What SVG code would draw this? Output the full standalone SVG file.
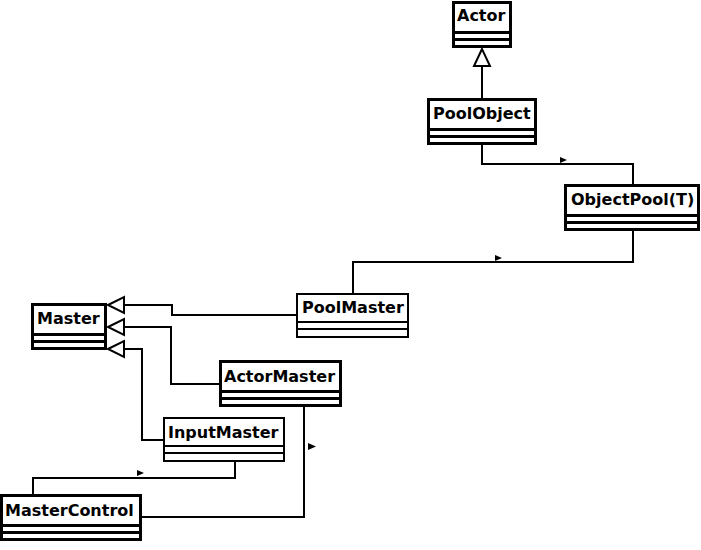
<svg xmlns="http://www.w3.org/2000/svg" width="701" height="550" viewBox="0 0 701 550">
<style>
.box{fill:#fff;stroke:#000}
.thick{stroke-width:3}
.thin{stroke-width:2}
.lbl{font-family:"DejaVu Sans",sans-serif;font-weight:bold;font-size:16px;fill:#000}
.conn{fill:none;stroke:#000;stroke-width:2}
.gen{fill:#fff;stroke:#000;stroke-width:2}
.nav{fill:#000;stroke:none}
</style>
<rect width="701" height="550" fill="#fff"/>
<g id="connectors">
  <line class="conn" x1="482" y1="98" x2="482" y2="65"/>
  <polygon class="gen" points="482,49 474,66 490,66"/>
  <polyline class="conn" points="482,145 482,164 633,164 633,184"/>
  <polygon class="nav" points="560,157 567,160 560,163"/>
  <polyline class="conn" points="633,231 633,262 353,262 353,293"/>
  <polygon class="nav" points="495,255 502,258 495,261"/>
  <polyline class="conn" points="297,315 172,315 172,305 123,305"/>
  <polygon class="gen" points="108,305 124,297 124,313"/>
  <polyline class="conn" points="219,384 171,384 171,327 123,327"/>
  <polygon class="gen" points="108,327 124,319 124,335"/>
  <polyline class="conn" points="163,440 142,440 142,349 123,349"/>
  <polygon class="gen" points="108,349 124,341 124,357"/>
  <polyline class="conn" points="235,461 235,478 33,478 33,494"/>
  <polygon class="nav" points="137,470 144,473 137,476"/>
  <polyline class="conn" points="142,517 304,517 304,406"/>
  <polygon class="nav" points="308,443 316,446.5 308,450"/>
</g>
<g id="Actor">
  <rect class="box thick" x="453.5" y="2.5" width="57" height="44"/>
  <line class="box thick" x1="453.5" y1="32.5" x2="510.5" y2="32.5"/>
  <line class="box thick" x1="453.5" y1="39.5" x2="510.5" y2="39.5"/>
  <text class="lbl" x="457" y="21">Actor</text>
</g>
<g id="PoolObject">
  <rect class="box thick" x="428.5" y="99.5" width="107" height="44"/>
  <line class="box thick" x1="428.5" y1="129.5" x2="535.5" y2="129.5"/>
  <line class="box thick" x1="428.5" y1="136.5" x2="535.5" y2="136.5"/>
  <text class="lbl" x="433" y="119">PoolObject</text>
</g>
<g id="ObjectPool">
  <rect class="box thick" x="565.5" y="185.5" width="133" height="44"/>
  <line class="box thick" x1="565.5" y1="215.5" x2="698.5" y2="215.5"/>
  <line class="box thick" x1="565.5" y1="222.5" x2="698.5" y2="222.5"/>
  <text class="lbl" x="571" y="205">ObjectPool(T)</text>
</g>
<g id="PoolMaster">
  <rect class="box thin" x="297" y="294" width="111" height="43"/>
  <line class="box thin" x1="297" y1="322" x2="408" y2="322"/>
  <line class="box thin" x1="297" y1="329" x2="408" y2="329"/>
  <text class="lbl" x="302" y="313">PoolMaster</text>
</g>
<g id="Master">
  <rect class="box thick" x="32.5" y="304.5" width="73" height="44"/>
  <line class="box thick" x1="32.5" y1="334.5" x2="105.5" y2="334.5"/>
  <line class="box thick" x1="32.5" y1="341.5" x2="105.5" y2="341.5"/>
  <text class="lbl" x="37" y="324">Master</text>
</g>
<g id="ActorMaster">
  <rect class="box thick" x="220.5" y="361.5" width="120" height="44"/>
  <line class="box thick" x1="220.5" y1="391.5" x2="340.5" y2="391.5"/>
  <line class="box thick" x1="220.5" y1="398.5" x2="340.5" y2="398.5"/>
  <text class="lbl" x="224" y="382">ActorMaster</text>
</g>
<g id="InputMaster">
  <rect class="box thin" x="164" y="418" width="120" height="43"/>
  <line class="box thin" x1="164" y1="446" x2="284" y2="446"/>
  <line class="box thin" x1="164" y1="453" x2="284" y2="453"/>
  <text class="lbl" x="168" y="438">InputMaster</text>
</g>
<g id="MasterControl">
  <rect class="box thick" x="1.5" y="495.5" width="139" height="44"/>
  <line class="box thick" x1="1.5" y1="525.5" x2="140.5" y2="525.5"/>
  <line class="box thick" x1="1.5" y1="532.5" x2="140.5" y2="532.5"/>
  <text class="lbl" x="5" y="516">MasterControl</text>
</g>
</svg>
